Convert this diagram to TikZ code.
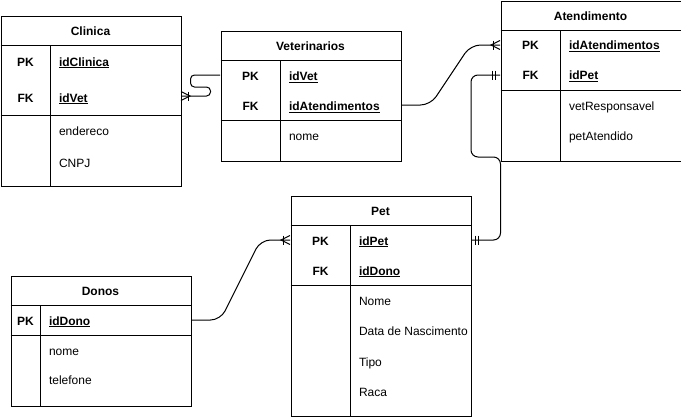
\documentclass[tikz,border=0pt]{standalone}
\usepackage{fontspec}
\setmainfont{Liberation Sans}
% underlined key attribute
\newcommand\keyul[1]{\setbox0=\hbox{#1}\rlap{\rule[-2.2pt]{\wd0}{0.9pt}}\box0}
\newcommand\basefont{\fontsize{12}{14}\selectfont}
\tikzset{
  pics/crowfoot/.style={code={
    \draw (0,-4.5) -- (9,0) -- (0,4.5);
    \draw (7,-4.5) -- (7,4.5);}},
  pics/onebars/.style={code={
    \draw (4.5,-4.5) -- (4.5,4.5);
    \draw (7.5,-4.5) -- (7.5,4.5);}}
}
\begin{document}
\begin{tikzpicture}[x=1pt,y=-1pt,line width=1pt,
  tbl/.style={draw,minimum width=180pt,anchor=north west,inner sep=0pt},
  tbltitle/.style={anchor=base,inner sep=0pt,font=\basefont\bfseries},
  keytag/.style={anchor=base,inner sep=0pt,font=\basefont\bfseries},
  keyname/.style={anchor=base west,inner sep=0pt,font=\basefont\bfseries},
  attrtext/.style={anchor=base west,inner sep=0pt,font=\basefont},
  keyrow/.style={inner sep=0pt,minimum width=180pt,minimum height=20pt},
  conn/.style={line width=1pt}
]
\useasboundingbox (0,0) rectangle (681,416);

% ---------- Clinica ----------
\node[tbl,minimum height=170pt] (clinica) at (0.5,15.5) {};
\draw (0.5,45.5) -- (180.5,45.5);
\draw (50.5,45.5) -- (50.5,185.5);
\draw (0.5,115.5) -- (180.5,115.5);
\node[tbltitle] (clinica-title) at (90.5,35) {Clinica};
\node[keytag] (clinica-pk) at (25.5,66) {PK};
\node[keyname] (clinica-idclinica) at (58.5,66) {\keyul{idClinica}};
\node[keytag] (clinica-fk) at (25.5,102) {FK};
\node[keyname] (clinica-idvet-text) at (58.5,102) {\keyul{idVet}};
\node[attrtext] (clinica-endereco) at (58.5,135) {endereco};
\node[attrtext] (clinica-cnpj) at (58.5,167) {CNPJ};
\node[keyrow] (clinica-idvet) at (90.5,96) {};

% ---------- Veterinarios ----------
\node[tbl,minimum height=130pt] (vet) at (220.5,30.5) {};
\draw (220.5,60.5) -- (400.5,60.5);
\draw (280.5,60.5) -- (280.5,160.5);
\draw (220.5,120.5) -- (400.5,120.5);
\node[tbltitle] (vet-title) at (310.5,50) {Veterinarios};
\node[keytag] (vet-pk) at (250.5,80.5) {PK};
\node[keyname] (vet-idvet-text) at (288.5,80.5) {\keyul{idVet}};
\node[keytag] (vet-fk) at (250.5,110.5) {FK};
\node[keyname] (vet-idatend-text) at (288.5,110.5) {\keyul{idAtendimentos}};
\node[attrtext] (vet-nome) at (288.5,140) {nome};
\node[keyrow] (vet-idvet) at (310.5,75) {};
\node[keyrow] (vet-idatend) at (310.5,105) {};

% ---------- Atendimento ----------
\node[tbl,minimum height=160pt] (atend) at (500.5,0.5) {};
\draw (500.5,30.5) -- (680.5,30.5);
\draw (560.5,30.5) -- (560.5,160.5);
\draw (500.5,90.5) -- (680.5,90.5);
\node[tbltitle] (atend-title) at (590.5,20.5) {Atendimento};
\node[keytag] (atend-pk) at (530.5,49.5) {PK};
\node[keyname] (atend-idatend-text) at (568.5,49.5) {\keyul{idAtendimentos}};
\node[keytag] (atend-fk) at (530.5,79.5) {FK};
\node[keyname] (atend-idpet-text) at (568.5,79.5) {\keyul{idPet}};
\node[attrtext] (atend-vetresp) at (568.5,110) {vetResponsavel};
\node[attrtext] (atend-petatend) at (568.5,140) {petAtendido};
\node[keyrow] (atend-idatend) at (590.5,45) {};
\node[keyrow] (atend-idpet) at (590.5,75) {};

% ---------- Pet ----------
\node[tbl,minimum height=220pt] (pet) at (290.5,195.5) {};
\draw (290.5,225.5) -- (470.5,225.5);
\draw (350.5,225.5) -- (350.5,415.5);
\draw (290.5,285.5) -- (470.5,285.5);
\node[tbltitle] (pet-title) at (380.5,215.5) {Pet};
\node[keytag] (pet-pk) at (320.5,245) {PK};
\node[keyname] (pet-idpet-text) at (358.5,245) {\keyul{idPet}};
\node[keytag] (pet-fk) at (320.5,275) {FK};
\node[keyname] (pet-iddono-text) at (358.5,275) {\keyul{idDono}};
\node[attrtext] (pet-nome) at (358.5,305) {Nome};
\node[attrtext] (pet-nasc) at (358.5,335) {Data de Nascimento};
\node[attrtext] (pet-tipo) at (358.5,366) {Tipo};
\node[attrtext] (pet-raca) at (358.5,396) {Raca};
\node[keyrow] (pet-idpet) at (380.5,240) {};

% ---------- Donos ----------
\node[tbl,minimum height=130pt] (donos) at (10.5,275.5) {};
\draw (10.5,305.5) -- (190.5,305.5);
\draw (40.5,305.5) -- (40.5,405.5);
\draw (10.5,335.5) -- (190.5,335.5);
\node[tbltitle] (donos-title) at (100.5,295) {Donos};
\node[keytag] (donos-pk) at (25.5,325) {PK};
\node[keyname] (donos-iddono-text) at (48.5,325) {\keyul{idDono}};
\node[attrtext] (donos-nome) at (48.5,355) {nome};
\node[attrtext] (donos-telefone) at (48.5,384) {telefone};
\node[keyrow] (donos-iddono) at (100.5,320) {};

% ---------- relationships ----------
\draw[conn,rounded corners=4pt] (vet-idvet.west) -- (190.5,75) -- (190.5,87)
  -- (210.5,87) -- (210.5,96) -- (clinica-idvet.east);
\pic at (clinica-idvet.east) {crowfoot};

\draw[conn,rounded corners=10pt] (vet-idatend.east) -- (430.5,105) -- (470.5,45)
  -- (atend-idatend.west);
\pic[xscale=-1] at (atend-idatend.west) {crowfoot};

\draw[conn,rounded corners=7pt] (atend-idpet.west) -- (471,75) -- (471,157)
  -- (500.5,157) -- (500.5,240) -- (pet-idpet.east);
\pic[xscale=-1] at (atend-idpet.west) {onebars};
\pic at (pet-idpet.east) {onebars};

\draw[conn,rounded corners=10pt] (donos-iddono.east) -- (220.5,320) -- (260.5,240)
  -- (pet-idpet.west);
\pic[xscale=-1] at (pet-idpet.west) {crowfoot};
\end{tikzpicture}
\end{document}
